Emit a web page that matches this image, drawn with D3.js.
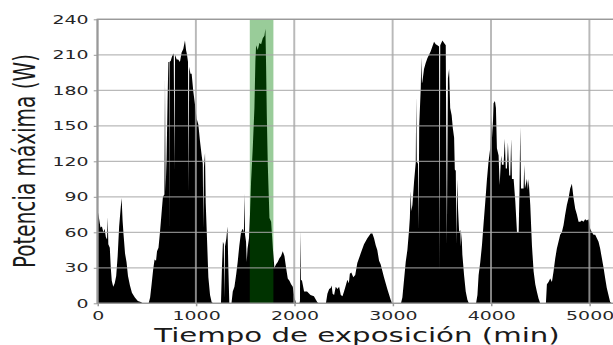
<!DOCTYPE html>
<head>
  <meta charset="utf-8">
  <script src="https://d3js.org/d3.v7.min.js"></script>
  <style type="text/css">
    body { margin: 0; background: #fff; }
    svg { display: block; }
    text { font-family: "DejaVu Sans", sans-serif; }
  </style>
</head>

<body>
  <script type="text/javascript">
    // minutos de exposicion y potencia maxima (W)
    var tiempo = [
      0, 15, 30, 45, 60, 72, 85, 97, 104, 110, 125, 135, 145, 160, 175, 190, 205, 220, 235, 245,
      255, 265, 280, 295, 310, 330, 350, 380, 410, 440, 460, 520,
      535, 550, 565, 580, 595, 605, 620, 635, 650, 665, 680, 686, 692, 702, 712, 720, 726, 729,
      732, 745, 755, 765, 775, 782, 788, 805, 820, 838, 855, 872, 889, 900, 910, 920, 926, 932,
      945, 957, 974, 991, 1008, 1025, 1042, 1059, 1070, 1076, 1082, 1093, 1100, 1110, 1127, 1144,
      1160, 1175, 1255,
      1265, 1275, 1284, 1290, 1296, 1310, 1321, 1330, 1340, 1362,
      1375, 1392, 1409, 1425, 1442, 1459, 1476, 1488, 1494, 1500, 1510, 1517, 1525, 1540, 1550,
      1561, 1578, 1595, 1605, 1612, 1629, 1646, 1663, 1680, 1697, 1707, 1714, 1721, 1731, 1748,
      1765, 1782, 1798, 1815, 1832, 1849, 1866, 1883, 1900, 1917, 1934, 1951, 1968, 1985, 2002,
      2018, 2052,
      2058, 2062, 2068, 2079, 2100, 2130, 2165, 2200, 2233, 2245, 2322,
      2337, 2355, 2371, 2380, 2390, 2405, 2422, 2439, 2456, 2473, 2490, 2506, 2520, 2540, 2555,
      2565, 2580, 2600, 2620, 2641, 2675, 2709, 2743, 2777, 2794, 2811, 2828, 2844, 2862, 2878,
      2912, 2946, 2980, 2995, 3085,
      3099, 3116, 3133, 3150, 3167, 3175, 3184, 3190, 3201, 3218, 3235, 3240, 3245, 3258, 3264,
      3270, 3286, 3292, 3298, 3302, 3319, 3336, 3353, 3370, 3387, 3404, 3421, 3438, 3455, 3472,
      3478, 3484, 3506, 3523, 3540, 3551, 3562, 3574, 3585, 3600, 3612, 3625, 3632, 3642, 3649,
      3656, 3665, 3676, 3688, 3693, 3700, 3709, 3726, 3743, 3760, 3775, 3848,
      3862, 3874, 3891, 3908, 3925, 3942, 3958, 3975, 3992, 4009, 4015, 4026, 4040, 4050, 4060,
      4077, 4088, 4100, 4104, 4111, 4128, 4140, 4150, 4162, 4172, 4185, 4196, 4205, 4213, 4230,
      4247, 4264, 4281, 4290, 4297, 4305, 4314, 4331, 4338, 4345, 4365, 4375, 4382, 4399, 4416,
      4433, 4450, 4466, 4483, 4500, 4558,
      4568, 4585, 4602, 4619, 4636, 4653, 4669, 4686, 4703, 4720, 4737, 4754, 4771, 4788, 4805,
      4822, 4839, 4856, 4873, 4890, 4907, 4923, 4940, 4957, 4974, 4991, 5008, 5025, 5042, 5059,
      5076, 5093, 5110, 5127, 5144, 5161, 5177, 5194, 5211, 5228, 5300
    ];
    var potencia = [
      79, 72, 64, 65, 60, 63, 56, 54, 73, 50, 47, 30, 19, 14, 17, 23, 40, 65, 80, 89,
      70, 58, 42, 35, 23, 15, 9, 5, 2, 1, 0, 0,
      5, 16, 28, 37, 36, 44, 47, 60, 75, 90, 92, 190, 95, 122, 170, 204, 204, 64,
      204, 205, 208, 210, 211, 112, 210, 206, 206, 204, 212, 215, 222, 214, 210, 204, 94, 200,
      194, 194, 179, 168, 156, 151, 137, 125, 118, 64, 115, 127, 85, 62, 22, 7,
      1, 0, 0,
      30, 52, 50, 5, 48, 55, 65, 30, 0, 0,
      10, 14, 24, 35, 49, 60, 63, 60, 93, 58, 52, 35, 46, 55, 75,
      103, 131, 165, 205, 218, 214, 220, 219, 224, 226, 232, 200, 159, 117, 72,
      69, 47, 30, 33, 35, 38, 40, 44, 40, 30, 21, 19, 16, 14, 5,
      0, 0,
      2, 62, 20, 19, 10, 10, 7, 6, 1, 0, 0,
      8, 12, 13, 15, 8, 7, 14, 12, 14, 7, 6, 10, 14, 20, 17,
      25, 26, 22, 24, 34, 42, 50, 55, 59, 59, 55, 49, 45, 36, 33,
      22, 12, 3, 0, 0,
      5, 20, 35, 45, 62, 72, 95, 78, 83, 103, 119, 175, 120, 118, 63,
      150, 182, 208, 186, 187, 198, 203, 207, 210, 213, 217, 221, 219, 218, 217,
      27, 218, 222, 220, 218, 49, 190, 198, 165, 159, 148, 140, 113, 112, 50,
      105, 80, 60, 62, 48, 60, 41, 24, 10, 3, 0, 0,
      7, 24, 35, 49, 68, 86, 104, 120, 131, 159, 140, 169, 171, 165, 131,
      125, 100, 120, 125, 117, 117, 139, 114, 114, 136, 108, 108, 139, 105, 105,
      86, 60, 60, 97, 149, 97, 97, 97, 117, 97, 105, 96, 105, 83, 49,
      27, 16, 10, 4, 0, 0,
      16, 18, 21, 18, 27, 38, 46, 52, 58, 60, 66, 75, 83, 89, 97,
      101, 89, 80, 75, 69, 69, 70, 69, 71, 70, 71, 63, 60, 58, 58,
      55, 52, 46, 38, 30, 21, 13, 7, 1, 0, 0
    ];
    var franja = [1548, 1788];
    var xTicks = [0, 1000, 2000, 3000, 4000, 5000];
    var yTicks = [0, 30, 60, 90, 120, 150, 180, 210, 240];

    // la figura original esta estirada en horizontal: se dibuja en un
    // ancho reducido y el viewBox la estira hasta 613px
    var sx = 1.5;
    var W = 613, H = 345;
    var margin = { top: 19.3, left: 65 },
        bottom = 303.3,
        right = 412.6;

    var svg = d3.select("body").append("svg")
      .attr("width", W)
      .attr("height", H)
      .attr("viewBox", "0 0 " + (W / sx) + " " + H)
      .attr("preserveAspectRatio", "none");

    var x = d3.scaleLinear().domain([0, 5300]).range([margin.left, right]);
    var y = d3.scaleLinear().domain([0, 240]).range([bottom, margin.top]);

    svg.append("defs").append("clipPath").attr("id", "clip")
      .append("rect")
      .attr("x", margin.left).attr("y", margin.top)
      .attr("width", right - margin.left).attr("height", bottom - margin.top);

    var datos = tiempo.map(function(t, i) { return { t: t, p: potencia[i] }; });

    var plot = svg.append("g").attr("clip-path", "url(#clip)");

    var area = d3.area()
      .x(function(d) { return x(d.t); })
      .y0(y(0))
      .y1(function(d) { return y(d.p); });

    plot.append("path")
      .datum(datos)
      .attr("d", area)
      .attr("fill", "#000")
      .attr("stroke", "none");

    plot.append("rect")
      .attr("x", x(franja[0]))
      .attr("width", x(franja[1]) - x(franja[0]))
      .attr("y", margin.top)
      .attr("height", bottom - margin.top)
      .attr("fill", "#008000")
      .attr("fill-opacity", 0.4);

    // rejilla, encima del relleno como en el original
    var grid = svg.append("g").attr("class", "grid");
    grid.selectAll(".gh").data(yTicks).enter().append("line")
      .attr("class", "gh")
      .attr("x1", margin.left).attr("x2", right)
      .attr("y1", function(d) { return y(d); })
      .attr("y2", function(d) { return y(d); });
    grid.selectAll(".gv").data(xTicks).enter().append("line")
      .attr("class", "gv")
      .attr("y1", margin.top).attr("y2", bottom)
      .attr("x1", function(d) { return x(d); })
      .attr("x2", function(d) { return x(d); });
    grid.selectAll("line")
      .attr("stroke", "#a8a8a8")
      .attr("stroke-opacity", 0.8)
      .attr("stroke-width", 1.3);

    // marco
    svg.append("rect")
      .attr("x", margin.left).attr("y", margin.top)
      .attr("width", right - margin.left).attr("height", bottom - margin.top)
      .attr("fill", "none")
      .attr("stroke", "#999")
      .attr("stroke-width", 1.3);

    var xAxis = d3.axisBottom(x).tickValues(xTicks).tickFormat(d3.format("d"))
      .tickSize(3).tickPadding(4.4);
    var yAxis = d3.axisLeft(y).tickValues(yTicks).tickFormat(d3.format("d"))
      .tickSize(2.5).tickPadding(3.5);

    svg.append("g")
      .attr("class", "x--axis")
      .attr("transform", "translate(0," + bottom + ")")
      .call(xAxis);
    svg.append("g")
      .attr("class", "y--axis")
      .attr("transform", "translate(" + margin.left + ",0)")
      .call(yAxis);

    svg.selectAll(".x--axis .domain, .y--axis .domain").remove();
    svg.selectAll(".x--axis line, .y--axis line").attr("stroke", "#999");
    svg.selectAll(".x--axis text, .y--axis text")
      .attr("fill", "#262626")
      .style("font-size", "12.6px")
      .style("font-family", "DejaVu Sans, sans-serif");

    svg.append("text")
      .attr("x", 238)
      .attr("y", 341.7)
      .attr("text-anchor", "middle")
      .attr("fill", "#1a1a1a")
      .style("font-size", "19.5px")
      .text("Tiempo de exposición (min)");

    svg.append("text")
      .attr("transform", "translate(23.3,161) rotate(-90)")
      .attr("text-anchor", "middle")
      .attr("fill", "#1a1a1a")
      .style("font-size", "20px")
      .text("Potencia máxima (W)");
  </script>
</body>
